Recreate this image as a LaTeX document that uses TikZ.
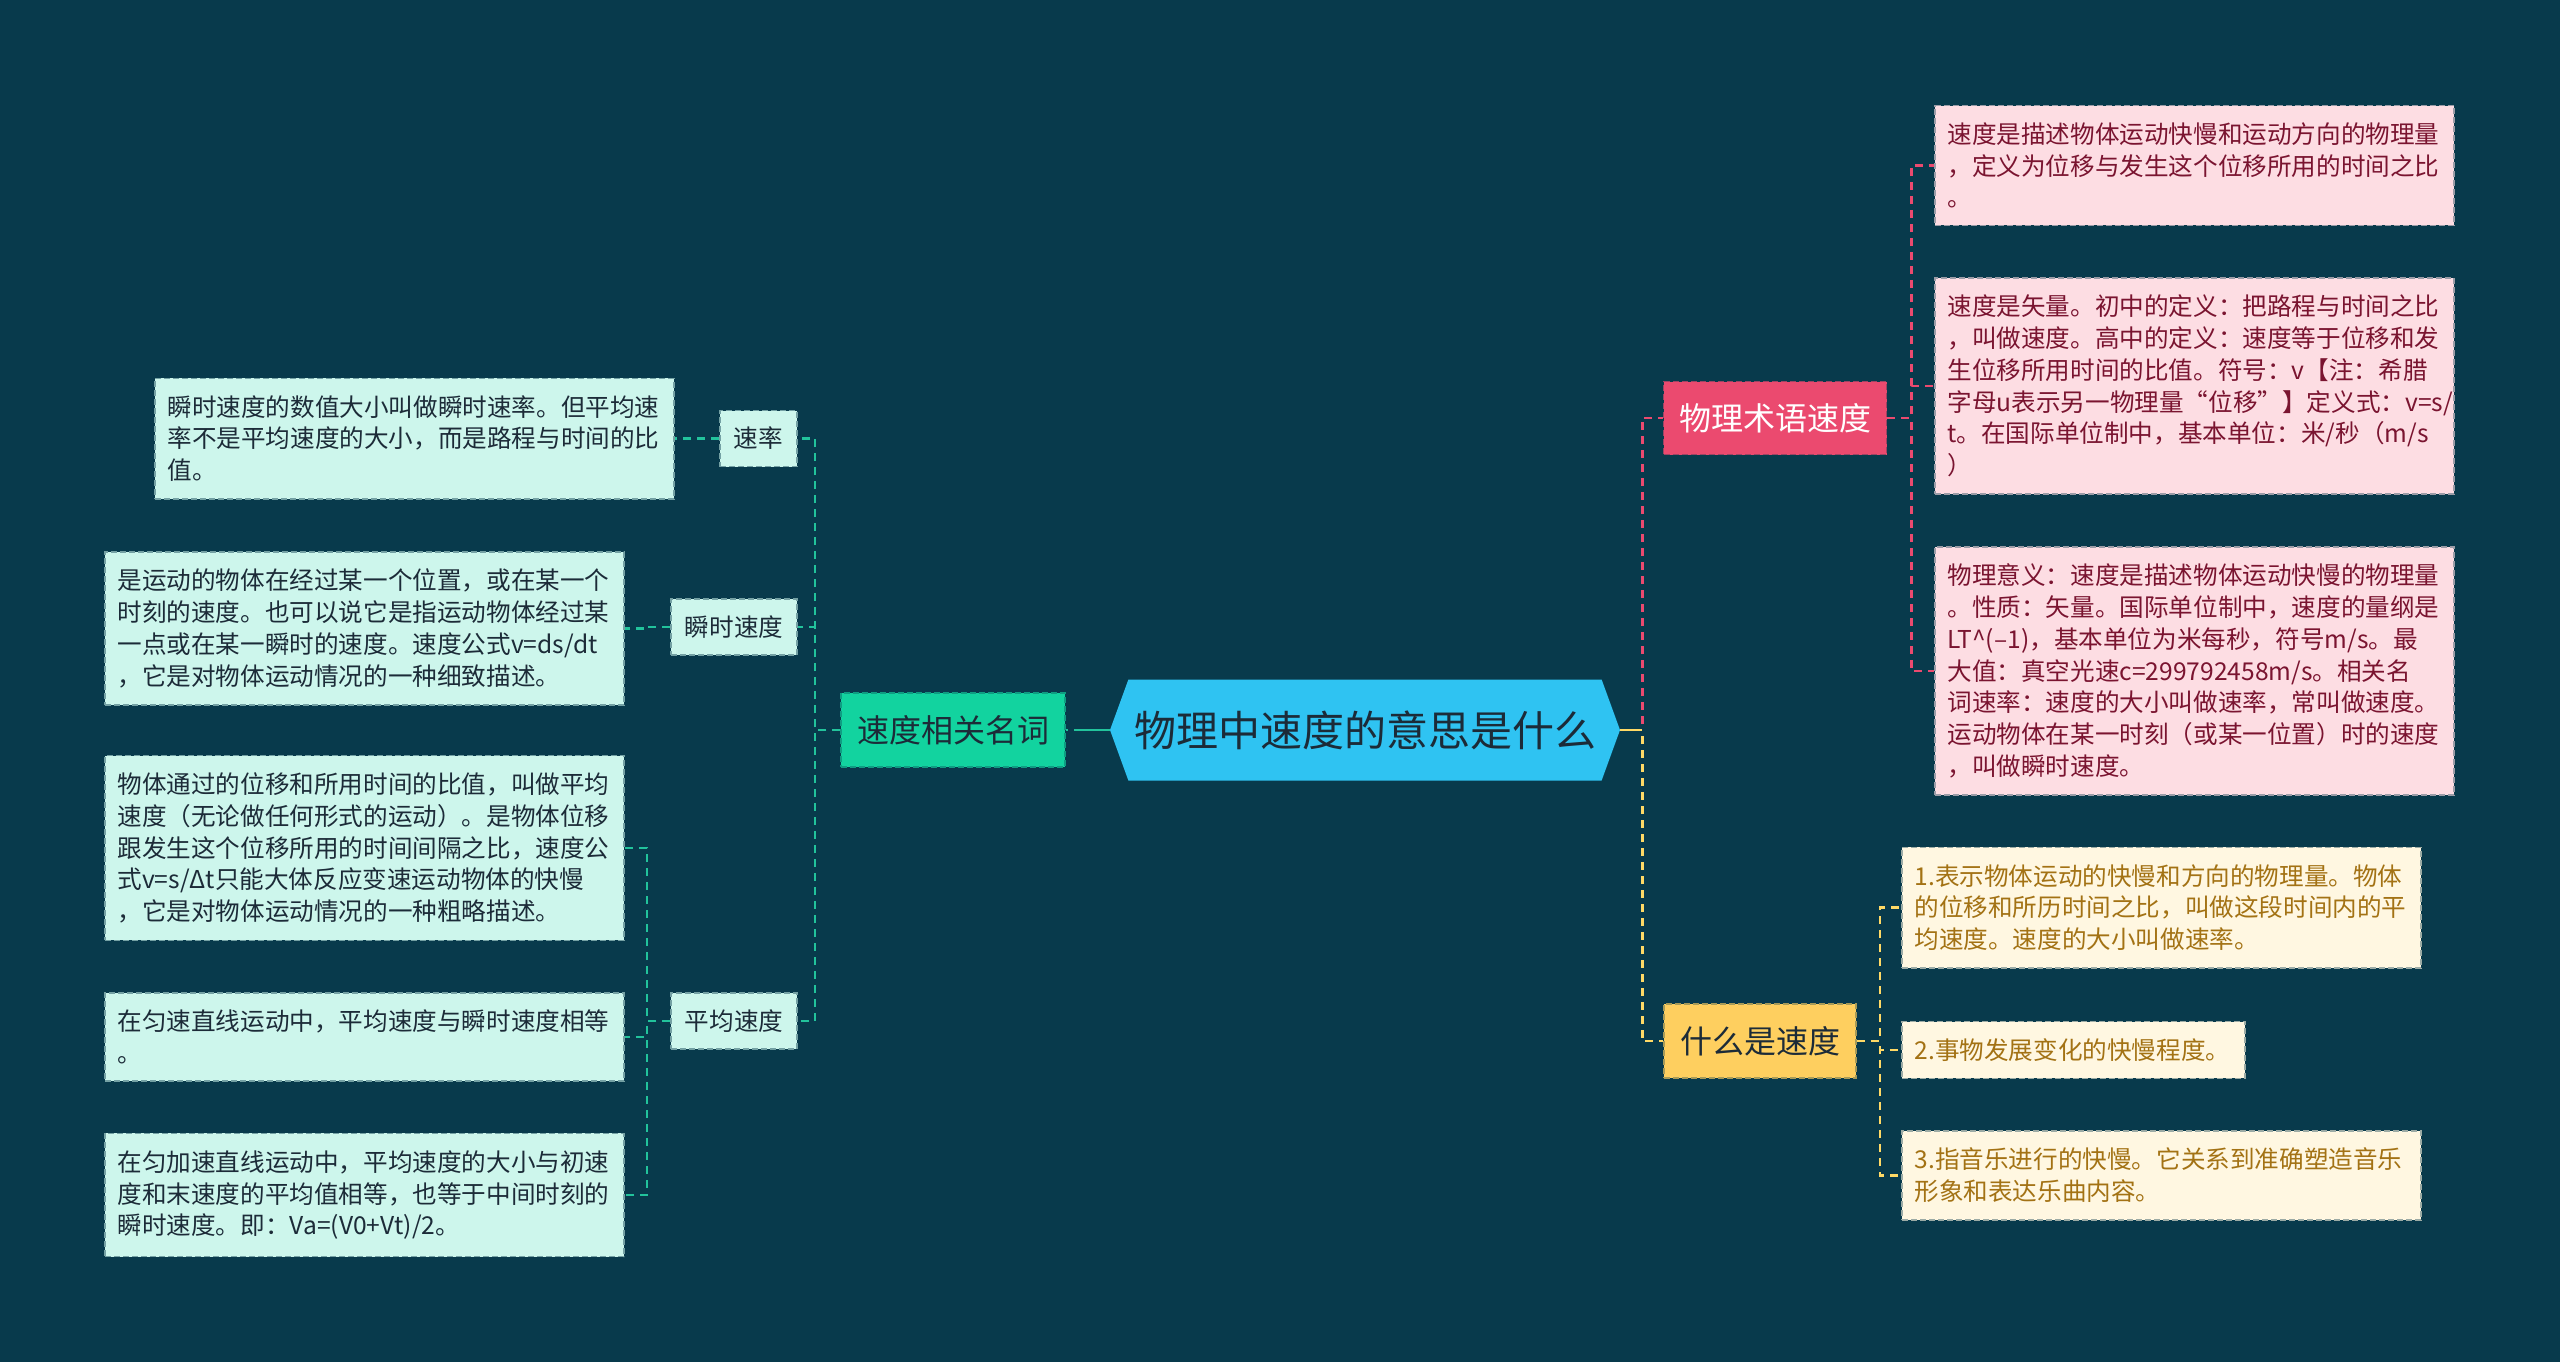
\documentclass[tikz,border=0pt]{standalone}
\usepackage{fontspec}
\setmainfont{Noto Sans CJK SC}
\usepackage{xcolor}
\usepackage{tikz}
\usetikzlibrary{calc, shapes.symbols}
\definecolor{bgdark}{HTML}{083A4C}
\definecolor{rootblue}{HTML}{2FC3F2}
\definecolor{inkdark}{HTML}{1C2B38}
\definecolor{mintgreen}{HTML}{12D39F}
\definecolor{mintlight}{HTML}{CDF6EC}
\definecolor{mintline}{HTML}{22C39C}
\definecolor{rosered}{HTML}{EB4A6F}
\definecolor{roselight}{HTML}{FDDDE3}
\definecolor{rosetext}{HTML}{7A1430}
\definecolor{sunyellow}{HTML}{FECF5F}
\definecolor{sunlight}{HTML}{FFF7E1}
\definecolor{suntext}{HTML}{A37214}
\definecolor{sunline}{HTML}{FFD966}

\tikzset{
  bodyfont/.style={font=\fontsize{12.3}{15.9}\selectfont},
  headfont/.style={font=\fontsize{16}{19}\selectfont},
  boxline/.style={draw=#1, dash pattern=on 3pt off 1.5pt, line width=0.8pt},
  topicbox/.style={headfont, inner sep=0pt, minimum height=37pt},
  subbox/.style={bodyfont, fill=mintlight, text=inkdark, boxline=mintlight!55!bgdark,
                 inner sep=0pt, minimum height=28pt},
  notebox/.style={bodyfont, align=left, text width=247pt, inner xsep=6.25pt, inner ysep=8.5pt},
  mintnote/.style={notebox, fill=mintlight, text=inkdark, boxline=mintlight!55!bgdark},
  rosenote/.style={notebox, fill=roselight, text=rosetext, boxline=roselight!60!bgdark},
  sunnote/.style={notebox, fill=sunlight, text=suntext, boxline=sunlight!60!bgdark},
  linkbase/.style={line width=1.25pt, dash pattern=on 4pt off 3pt},
  mintlink/.style={linkbase, draw=mintline},
  roselink/.style={linkbase, draw=rosered},
  sunlink/.style={linkbase, draw=sunline},
  elbow/.style={to path={-- ++(#1,0) |- (\tikztotarget)}}
}

\begin{document}
\begin{tikzpicture}[x=0.5pt, y=-0.5pt]
    \fill[bgdark] (0,0) rectangle (2560,1362);

    \node[signal, signal to=east and west, signal pointer angle=140,
          fill=rootblue, text=inkdark, inner sep=0pt,
          minimum width=255pt, minimum height=50.5pt,
          font=\fontsize{21}{25}\selectfont] (root) at (1365,730) {物理中速度的意思是什么};

    \node[topicbox, fill=mintgreen, text=inkdark, boxline=mintgreen!65!bgdark,
          minimum width=112pt] (related) at (953,730) {速度相关名词};
    \node[topicbox, fill=rosered, text=white, boxline=rosered!65!bgdark,
          minimum width=111.5pt, minimum height=36.5pt] (term) at (1775,418) {物理术语速度};
    \node[topicbox, fill=sunyellow, text=inkdark, boxline=sunyellow!65!bgdark,
          minimum width=96pt] (whatis) at (1760,1041) {什么是速度};

    \node[subbox, minimum width=38.5pt] (rate) at (758.5,438.5) {速率};
    \node[subbox, minimum width=63pt] (instant) at (734,627) {瞬时速度};
    \node[subbox, minimum width=63pt] (average) at (734,1021) {平均速度};

    \node[mintnote] (rateNote) at (414.5,438.5) {瞬时速度的数值大小叫做瞬时速率。但平均速\\率不是平均速度的大小，而是路程与时间的比\\值。};
    \node[mintnote] (instNote) at (364.5,628.5) {是运动的物体在经过某一个位置，或在某一个\\时刻的速度。也可以说它是指运动物体经过某\\一点或在某一瞬时的速度。速度公式v=ds/dt\\，它是对物体运动情况的一种细致描述。};
    \node[mintnote] (avgNoteA) at (364.5,848) {物体通过的位移和所用时间的比值，叫做平均\\速度（无论做任何形式的运动）。是物体位移\\跟发生这个位移所用的时间间隔之比，速度公\\式v=s/Δt只能大体反应变速运动物体的快慢\\，它是对物体运动情况的一种粗略描述。};
    \node[mintnote] (avgNoteB) at (364.5,1037) {在匀速直线运动中，平均速度与瞬时速度相等\\。};
    \node[mintnote] (avgNoteC) at (364.5,1195) {在匀加速直线运动中，平均速度的大小与初速\\度和末速度的平均值相等，也等于中间时刻的\\瞬时速度。即：Va=(V0+Vt)/2。};

    \node[rosenote] (termNoteA) at (2194.5,165.5) {速度是描述物体运动快慢和运动方向的物理量\\，定义为位移与发生这个位移所用的时间之比\\。};
    \node[rosenote] (termNoteB) at (2194.5,386) {速度是矢量。初中的定义：把路程与时间之比\\，叫做速度。高中的定义：速度等于位移和发\\生位移所用时间的比值。符号：v【注：希腊\\字母u表示另一物理量“位移”】定义式：v=s/\\t。在国际单位制中，基本单位：米/秒（m/s\\）};
    \node[rosenote] (termNoteC) at (2194.5,671) {物理意义：速度是描述物体运动快慢的物理量\\。性质：矢量。国际单位制中，速度的量纲是\\LT\textasciicircum(–1)，基本单位为米每秒，符号m/s。最\\大值：真空光速c=299792458m/s。相关名\\词速率：速度的大小叫做速率，常叫做速度。\\运动物体在某一时刻（或某一位置）时的速度\\，叫做瞬时速度。};

    \node[sunnote] (whatNoteA) at (2161.5,907.5) {1.表示物体运动的快慢和方向的物理量。物体\\的位移和所历时间之比，叫做这段时间内的平\\均速度。速度的大小叫做速率。};
    \node[sunnote, text width=159pt] (whatNoteB) at (2073.5,1050) {2.事物发展变化的快慢程度。};
    \node[sunnote] (whatNoteC) at (2161.5,1175.5) {3.指音乐进行的快慢。它关系到准确塑造音乐\\形象和表达乐曲内容。};

    \draw[mintlink] (root.west) -- (related.east);
    \draw[mintlink, solid] (root.west) -- ++(-28,0);
    \draw[roselink] (root.east) to[elbow=22] (term.west);
    \draw[sunlink] (root.east) to[elbow=22] (whatis.west);
    \draw[sunlink, solid] (root.east) -- ++(22,0);

    \foreach \kid in {rate, instant, average}
      \draw[mintlink] (related.west) to[elbow=-25] (\kid.east);
    \draw[mintlink] (rate.west) to[elbow=-23] (rateNote.east);
    \draw[mintlink] (instant.west) to[elbow=-23] (instNote.east);
    \foreach \kid in {avgNoteA, avgNoteB, avgNoteC}
      \draw[mintlink] (average.west) to[elbow=-23] (\kid.east);

    \foreach \kid in {termNoteA, termNoteB, termNoteC}
      \draw[roselink] (term.east) to[elbow=24] (\kid.west);
    \foreach \kid in {whatNoteA, whatNoteB, whatNoteC}
      \draw[sunlink] (whatis.east) to[elbow=23] (\kid.west);
\end{tikzpicture}
\end{document}
